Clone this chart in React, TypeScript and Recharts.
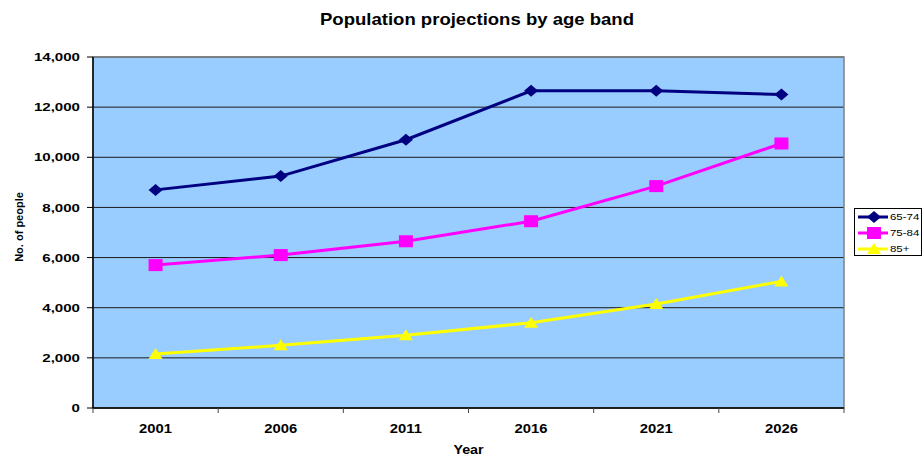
import React from "react";
import {
  CartesianGrid,
  Legend,
  Line,
  LineChart,
  ReferenceArea,
  XAxis,
  YAxis,
} from "recharts";

// values
const years = ["2001", "2006", "2011", "2016", "2021", "2026"];
const age65to74 = [8700, 9250, 10700, 12650, 12650, 12500];
const age75to84 = [5700, 6100, 6650, 7450, 8850, 10550];
const age85plus = [2150, 2500, 2900, 3400, 4150, 5050];
const yTicks = [0, 2000, 4000, 6000, 8000, 10000, 12000, 14000];

const data = years.map((year, i) => ({
  year,
  a: age65to74[i],
  b: age75to84[i],
  c: age85plus[i],
}));

const W = 924;
const H = 457;
const PL = 93;
const PT = 57;
const PR = 844;
const PB = 408;
const BAND = (PR - PL) / years.length;
const FONT = "'Liberation Sans', Arial, sans-serif";

const Diamond = ({ cx, cy, fill }: any) => (
  <polygon
    points={`${cx},${cy - 6} ${cx + 7},${cy} ${cx},${cy + 6} ${cx - 7},${cy}`}
    fill={fill}
  />
);
const Square = ({ cx, cy, fill }: any) => (
  <rect x={cx - 7} y={cy - 6} width={14} height={12} fill={fill} />
);
const Triangle = ({ cx, cy, fill }: any) => (
  <polygon
    points={`${cx},${cy - 6} ${cx + 7},${cy + 5} ${cx - 7},${cy + 5}`}
    fill={fill}
  />
);

const series = [
  { key: "a", name: "65-74", color: "#000080", Marker: Diamond },
  { key: "b", name: "75-84", color: "#FF00FF", Marker: Square },
  { key: "c", name: "85+", color: "#FFFF00", Marker: Triangle },
];

const XTick = ({ x, payload, index }: any) => {
  const half = BAND / 2;
  return (
    <g>
      <line x1={x - half} x2={x - half} y1={PB} y2={PB + 5} stroke="#444" />
      {index === years.length - 1 && (
        <line x1={x + half} x2={x + half} y1={PB} y2={PB + 5} stroke="#444" />
      )}
      <text
        transform={`translate(${x},${PB + 25}) scale(1.14,1)`}
        textAnchor="middle"
        fontSize={13}
        fontWeight="bold"
        fontFamily={FONT}
        fill="#000"
      >
        {payload.value}
      </text>
    </g>
  );
};

const YTick = ({ y, payload }: any) => (
  <g>
    <line x1={PL - 6} x2={PL} y1={y} y2={y} stroke="#000" />
    <text
      transform={`translate(80,${y + 4.2}) scale(1.3,1)`}
      textAnchor="end"
      fontSize={11.6}
      fontWeight="bold"
      fontFamily={FONT}
      fill="#000"
    >
      {payload.value.toLocaleString("en-US")}
    </text>
  </g>
);

const LegendBox = () => (
  <div
    style={{
      width: 68,
      height: 48,
      border: "1px solid #000",
      background: "#fff",
      boxSizing: "border-box",
    }}
  >
    <svg width={68} height={48}>
      {series.map((s, i) => {
        const cy = 8 + i * 16;
        const M = s.Marker;
        return (
          <g key={s.key}>
            <line x1={3} x2={33} y1={cy} y2={cy} stroke={s.color} strokeWidth={3} />
            <M cx={19} cy={cy} fill={s.color} />
            <text
              transform={`translate(35,${cy + 3}) scale(1.35,1)`}
              fontSize={8.5}
              fontFamily={FONT}
              fill="#000"
            >
              {s.name}
            </text>
          </g>
        );
      })}
    </svg>
  </div>
);

export default function App() {
  return (
    <div
      style={{
        position: "absolute",
        left: 0,
        top: 0,
        width: W,
        height: H,
        background: "#fff",
      }}
    >
      <div
        style={{
          position: "absolute",
          left: 476.5,
          top: 10,
          transform: "translateX(-50%) scaleX(1.09)",
          whiteSpace: "nowrap",
          fontFamily: FONT,
          fontWeight: "bold",
          fontSize: 17,
          lineHeight: "20px",
        }}
      >
        Population projections by age band
      </div>
      <LineChart
        width={W}
        height={H}
        data={data}
        margin={{ top: PT, right: W - PR, bottom: H - PB - 40, left: PL - 60 }}
      >
        <CartesianGrid
          vertical={false}
          stroke="#1a1a1a"
          fill="#99CCFF"
          fillOpacity={1}
        />
        <ReferenceArea
          y1={0}
          y2={14000}
          fill="none"
          stroke="#808080"
          strokeWidth={1.5}
        />
        <XAxis
          dataKey="year"
          scale="band"
          height={40}
          tickLine={false}
          stroke="#000"
          strokeWidth={1.5}
          tick={<XTick />}
          interval={0}
          label={{
            content: () => (
              <text
                transform={`translate(${(PL + PR) / 2},454) scale(1.1,1)`}
                textAnchor="middle"
                fontSize={13}
                fontWeight="bold"
                fontFamily={FONT}
                fill="#000"
              >
                Year
              </text>
            ),
          }}
        />
        <YAxis
          width={60}
          domain={[0, 14000]}
          ticks={yTicks}
          tickLine={false}
          stroke="#000"
          strokeWidth={1.5}
          tick={<YTick />}
          label={{
            content: () => (
              <text
                transform="translate(23,227) rotate(-90)"
                textAnchor="middle"
                fontSize={11}
                fontWeight="bold"
                fontFamily={FONT}
                fill="#000"
              >
                No. of people
              </text>
            ),
          }}
        />
        <Legend
          layout="vertical"
          align="center"
          verticalAlign="middle"
          content={<LegendBox />}
          wrapperStyle={{ position: "absolute", left: 854, top: 208, width: 68, height: 48 }}
        />
        {series.map((s) => {
          const M = s.Marker;
          return (
            <Line
              key={s.key}
              dataKey={s.key}
              name={s.name}
              stroke={s.color}
              strokeWidth={3}
              dot={(p: any) => <M key={p.index} cx={p.cx} cy={p.cy} fill={s.color} />}
              activeDot={false}
              isAnimationActive={false}
            />
          );
        })}
      </LineChart>
    </div>
  );
}
